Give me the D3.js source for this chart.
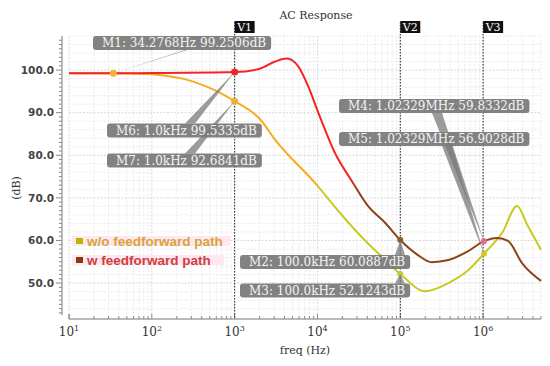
<!DOCTYPE html>
<html>
<head>
<meta charset="utf-8">
<script src="https://cdn.jsdelivr.net/npm/d3@7"></script>
<style>
  body { margin: 0; background: #fff; }
  svg { display: block; }
</style>
</head>
<body>
<svg id="chart" width="550" height="366"></svg>
<script>
'use strict';

// w/o feedforward path (Hz, dB)
const woFreq = [10, 34.2768, 60, 100, 316, 617, 1000, 2040, 3090, 9330, 20000, 37000, 66000, 100000, 200000, 380000, 660000, 1023290, 1700000, 2570000, 3470000, 5000000];
const woGain = [99.25, 99.25, 99.2, 99.0, 97.3, 95.0, 92.68, 88.4, 83.6, 73.5, 65.8, 60.1, 55.4, 52.12, 48.1, 50.0, 53.0, 56.9, 61.8, 68.1, 63.4, 57.8];

// w feedforward path (Hz, dB)
const wFreq = [10, 34.2768, 100, 1000, 2000, 3090, 4270, 5890, 7760, 10230, 16200, 26300, 40700, 66000, 100000, 162000, 240000, 380000, 660000, 1023290, 1480000, 2000000, 2950000, 5000000];
const wGain = [99.25, 99.25, 99.3, 99.53, 100.3, 102.0, 102.7, 100.8, 96.1, 90.0, 80.6, 73.8, 68.1, 64.1, 60.09, 56.6, 54.9, 55.4, 57.5, 59.83, 60.6, 59.9, 54.7, 50.5];

const yTicks = [50, 60, 70, 80, 90, 100];
const xTicks = [1e1, 1e2, 1e3, 1e4, 1e5, 1e6];
const cursorNames = ['V1', 'V2', 'V3'];
const cursorFreq = [1e3, 1e5, 1e6];

const markerNames = ['M1', 'M6', 'M7', 'M4', 'M5', 'M2', 'M3'];
const markerFreq = [34.2768, 1e3, 1e3, 1023290, 1023290, 1e5, 1e5];
const markerGain = [99.2506, 99.5335, 92.6841, 59.8332, 56.9028, 60.0887, 52.1243];
const markerText = ['34.2768Hz 99.2506dB', '1.0kHz 99.5335dB', '1.0kHz 92.6841dB',
  '1.02329MHz 59.8332dB', '1.02329MHz 56.9028dB', '100.0kHz 60.0887dB', '100.0kHz 52.1243dB'];

const legendNames = ['w/o feedforward path', 'w feedforward path'];

const svg = d3.select('#chart');
const x = d3.scaleLog().domain([10, 5e6]).range([69, 541]);
const y = d3.scaleLinear().domain([42.5, 108]).range([315, 36]);

// gradients (curves change colour with height)
const defs = svg.append('defs');
const grad = (id, top, bottom) => {
  const g = defs.append('linearGradient').attr('id', id)
    .attr('gradientUnits', 'userSpaceOnUse')
    .attr('x1', 0).attr('y1', 0).attr('x2', 0).attr('y2', 366);
  g.append('stop').attr('offset', 0.49).attr('stop-color', top);
  g.append('stop').attr('offset', 0.52).attr('stop-color', bottom);
};
grad('gWo', '#f7ab1e', '#c9c922');
grad('gW', '#f52424', '#8c4318');

// grid
const $grid = svg.append('g');
const minorF = [];
for (let e = 1; e <= 6; e++) {
  for (let m = 1; m <= 9; m++) {
    const f = m * Math.pow(10, e);
    if (f <= 5e6) minorF.push(f);
  }
}
$grid.selectAll('.vg').data(minorF).enter().append('line')
  .attr('x1', (d) => x(d)).attr('x2', (d) => x(d))
  .attr('y1', 36).attr('y2', 315)
  .attr('stroke', (d) => xTicks.includes(d) ? '#d8d8d8' : '#ebebeb')
  .attr('stroke-dasharray', '2,1.5');
$grid.selectAll('.hg').data(d3.range(44, 109, 2)).enter().append('line')
  .attr('x1', 69).attr('x2', 541)
  .attr('y1', (d) => y(d)).attr('y2', (d) => y(d))
  .attr('stroke', (d) => d % 10 === 0 ? '#d8d8d8' : '#ebebeb')
  .attr('stroke-dasharray', '2,1.5');

// y axis
const $yAxis = svg.append('g');
$yAxis.append('line').attr('x1', 62).attr('x2', 62).attr('y1', 36).attr('y2', 315)
  .attr('stroke', '#777');
$yAxis.selectAll('.yt').data(d3.range(43, 108, 1)).enter().append('line')
  .attr('x1', (d) => d % 10 === 0 ? 56 : 59).attr('x2', 62)
  .attr('y1', (d) => y(d)).attr('y2', (d) => y(d))
  .attr('stroke', '#888');
$yAxis.selectAll('.yl').data(yTicks).enter().append('text')
  .attr('x', 54).attr('y', (d) => y(d)).attr('dy', '0.36em')
  .attr('text-anchor', 'end')
  .style('font', 'bold 10.5px "DejaVu Sans"').attr('fill', '#444')
  .text((d) => d.toFixed(1));
svg.append('text').attr('transform', 'translate(20,188) rotate(-90)')
  .attr('text-anchor', 'middle')
  .style('font', '11px "DejaVu Serif"').attr('fill', '#333').text('(dB)');

// x axis
const $xAxis = svg.append('g');
$xAxis.append('line').attr('x1', 69).attr('x2', 541).attr('y1', 319).attr('y2', 319)
  .attr('stroke', '#777');
$xAxis.selectAll('.xt').data(minorF.concat([10])).enter().append('line')
  .attr('x1', (d) => x(d)).attr('x2', (d) => x(d))
  .attr('y1', (d) => xTicks.includes(d) ? 314 : 316).attr('y2', 319)
  .attr('stroke', '#888');
const $xl = $xAxis.selectAll('.xl').data(xTicks).enter().append('text')
  .attr('x', (d) => x(d)).attr('y', 336).attr('text-anchor', 'middle')
  .style('font', '12px "DejaVu Serif"').attr('fill', '#333');
$xl.append('tspan').text('10');
$xl.append('tspan').attr('dy', -5).style('font-size', '8px')
  .text((d) => Math.round(Math.log10(d)));
svg.append('text').attr('x', 305).attr('y', 354).attr('text-anchor', 'middle')
  .style('font', '11px "DejaVu Serif"').attr('fill', '#333').text('freq (Hz)');

// title
svg.append('text').attr('x', 316).attr('y', 19).attr('text-anchor', 'middle')
  .style('font', '11px "DejaVu Serif"').attr('fill', '#333').text('AC Response');

// legend
const legSquare = ['#b8b800', '#8b3a10'];
const legText = ['#d9a23a', '#d43c3c'];
const legBgW = [158, 152];
const $leg = svg.append('g');
legendNames.forEach((name, i) => {
  const yy = 241 + i * 19;
  $leg.append('rect').attr('x', 72).attr('y', yy - 5).attr('width', legBgW[i]).attr('height', 10)
    .attr('fill', '#fde8f2');
  $leg.append('rect').attr('x', 76).attr('y', yy - 3).attr('width', 7).attr('height', 6)
    .attr('fill', legSquare[i]);
  $leg.append('text').attr('x', 87).attr('y', yy + 5)
    .style('font', 'bold 13.5px "Liberation Sans"').attr('fill', legText[i]).text(name);
});

// curves
const line = d3.line().x((d) => x(d[0])).y((d) => y(d[1])).curve(d3.curveMonotoneX);
svg.append('path').datum(d3.zip(woFreq, woGain)).attr('d', line)
  .attr('fill', 'none').attr('stroke', 'url(#gWo)').attr('stroke-width', 2);
svg.append('path').datum(d3.zip(wFreq, wGain)).attr('d', line)
  .attr('fill', 'none').attr('stroke', 'url(#gW)').attr('stroke-width', 2);

// cursors
const $cur = svg.append('g');
cursorFreq.forEach((f, i) => {
  $cur.append('line').attr('x1', x(f)).attr('x2', x(f)).attr('y1', 22).attr('y2', 319)
    .attr('stroke', '#222').attr('stroke-dasharray', '1.5,1.5');
  $cur.append('rect').attr('x', x(f)).attr('y', 21).attr('width', 20).attr('height', 12)
    .attr('fill', '#111');
  $cur.append('text').attr('x', x(f) + 10).attr('y', 31).attr('text-anchor', 'middle')
    .style('font', '11px "DejaVu Serif"').attr('fill', '#fff').text(cursorNames[i]);
});

// marker dots
const dotColor = ['#f4b330', '#e82828', '#eeb030', '#e0708a', '#d0c828', '#8b5a2b', '#c8c830'];
svg.selectAll('.dot').data(markerNames).enter().append('circle')
  .attr('cx', (d, i) => x(markerFreq[i])).attr('cy', (d, i) => y(markerGain[i]))
  .attr('r', (d, i) => i < 3 ? 3.5 : 3)
  .attr('fill', (d, i) => dotColor[i]);

// marker labels: left x, center y, wedge base x, half width
const labelPos = [[93, 43, 186, 1.2], [107, 130.5, 190, 5], [107, 160.5, 190, 5],
  [339, 106, 437, 5], [339, 139, 447, 5], [240, 262, 400, 5], [240, 290.5, 400, 5]];
const $wedges = svg.append('g');
const $labels = svg.append('g');
markerNames.forEach((name, i) => {
  const [lx, ly, bx, hw] = labelPos[i];
  const px = x(markerFreq[i]);
  const py = y(markerGain[i]);
  const by = py < ly ? ly - 7 : ly + 7;
  $wedges.append('path')
    .attr('d', 'M' + (bx - hw) + ',' + by + 'L' + (bx + hw) + ',' + by + 'L' + px + ',' + py + 'Z')
    .attr('fill', '#7a7a7a').attr('fill-opacity', 0.75);
  const $r = $labels.append('rect').attr('fill', '#777').attr('fill-opacity', 0.92)
    .attr('rx', 3);
  const $t = $labels.append('text').attr('x', lx + 9).attr('y', ly).attr('dy', '0.35em')
    .style('font', '12px "DejaVu Serif"').attr('fill', '#f4f4f4')
    .text(name + ': ' + markerText[i]);
  const w = $t.node().getComputedTextLength();
  $r.attr('x', lx).attr('y', ly - 7).attr('width', w + 14).attr('height', 14);
});
</script>
</body>
</html>
